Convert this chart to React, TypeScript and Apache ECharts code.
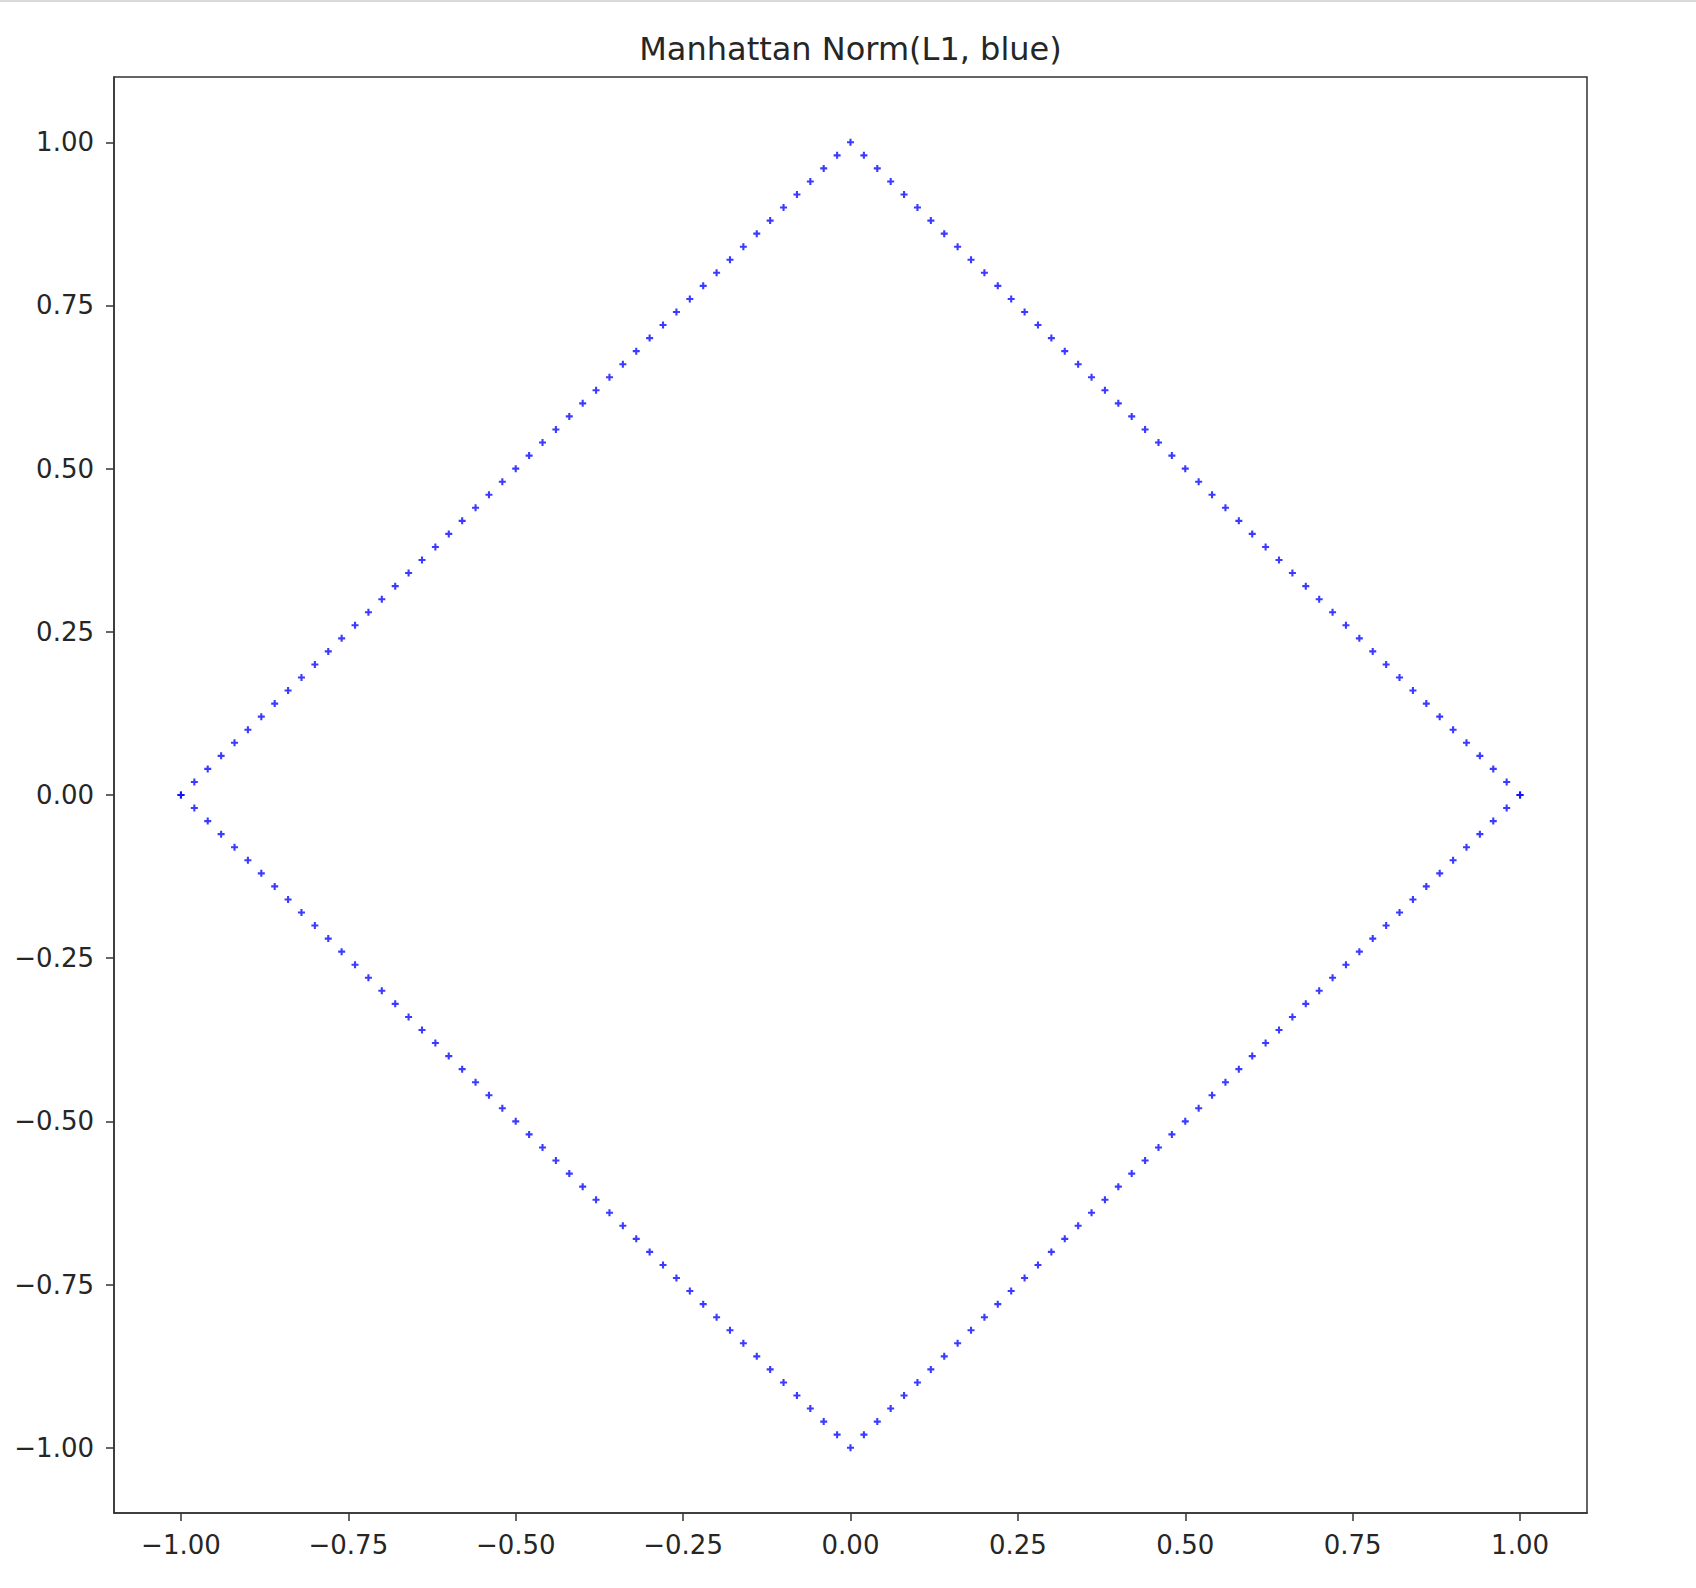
import React, { useEffect, useRef } from "react";
import * as echarts from "echarts";

const titleText = "Manhattan Norm(L1, blue)";

const tickValues = [-1, -0.75, -0.5, -0.25, 0, 0.25, 0.5, 0.75, 1];

const xs = [
  -1, -0.98, -0.96, -0.94, -0.92, -0.9, -0.88, -0.86, -0.84, -0.82,
  -0.8, -0.78, -0.76, -0.74, -0.72, -0.7, -0.68, -0.66, -0.64, -0.62,
  -0.6, -0.58, -0.56, -0.54, -0.52, -0.5, -0.48, -0.46, -0.44, -0.42,
  -0.4, -0.38, -0.36, -0.34, -0.32, -0.3, -0.28, -0.26, -0.24, -0.22,
  -0.2, -0.18, -0.16, -0.14, -0.12, -0.1, -0.08, -0.06, -0.04, -0.02,
  0,
  0.02, 0.04, 0.06, 0.08, 0.1, 0.12, 0.14, 0.16, 0.18, 0.2,
  0.22, 0.24, 0.26, 0.28, 0.3, 0.32, 0.34, 0.36, 0.38, 0.4,
  0.42, 0.44, 0.46, 0.48, 0.5, 0.52, 0.54, 0.56, 0.58, 0.6,
  0.62, 0.64, 0.66, 0.68, 0.7, 0.72, 0.74, 0.76, 0.78, 0.8,
  0.82, 0.84, 0.86, 0.88, 0.9, 0.92, 0.94, 0.96, 0.98, 1,
];

const upperY = [
  0, 0.02, 0.04, 0.06, 0.08, 0.1, 0.12, 0.14, 0.16, 0.18,
  0.2, 0.22, 0.24, 0.26, 0.28, 0.3, 0.32, 0.34, 0.36, 0.38,
  0.4, 0.42, 0.44, 0.46, 0.48, 0.5, 0.52, 0.54, 0.56, 0.58,
  0.6, 0.62, 0.64, 0.66, 0.68, 0.7, 0.72, 0.74, 0.76, 0.78,
  0.8, 0.82, 0.84, 0.86, 0.88, 0.9, 0.92, 0.94, 0.96, 0.98,
  1,
  0.98, 0.96, 0.94, 0.92, 0.9, 0.88, 0.86, 0.84, 0.82, 0.8,
  0.78, 0.76, 0.74, 0.72, 0.7, 0.68, 0.66, 0.64, 0.62, 0.6,
  0.58, 0.56, 0.54, 0.52, 0.5, 0.48, 0.46, 0.44, 0.42, 0.4,
  0.38, 0.36, 0.34, 0.32, 0.3, 0.28, 0.26, 0.24, 0.22, 0.2,
  0.18, 0.16, 0.14, 0.12, 0.1, 0.08, 0.06, 0.04, 0.02, 0,
];

const lowerY = [
  0, -0.02, -0.04, -0.06, -0.08, -0.1, -0.12, -0.14, -0.16, -0.18,
  -0.2, -0.22, -0.24, -0.26, -0.28, -0.3, -0.32, -0.34, -0.36, -0.38,
  -0.4, -0.42, -0.44, -0.46, -0.48, -0.5, -0.52, -0.54, -0.56, -0.58,
  -0.6, -0.62, -0.64, -0.66, -0.68, -0.7, -0.72, -0.74, -0.76, -0.78,
  -0.8, -0.82, -0.84, -0.86, -0.88, -0.9, -0.92, -0.94, -0.96, -0.98,
  -1,
  -0.98, -0.96, -0.94, -0.92, -0.9, -0.88, -0.86, -0.84, -0.82, -0.8,
  -0.78, -0.76, -0.74, -0.72, -0.7, -0.68, -0.66, -0.64, -0.62, -0.6,
  -0.58, -0.56, -0.54, -0.52, -0.5, -0.48, -0.46, -0.44, -0.42, -0.4,
  -0.38, -0.36, -0.34, -0.32, -0.3, -0.28, -0.26, -0.24, -0.22, -0.2,
  -0.18, -0.16, -0.14, -0.12, -0.1, -0.08, -0.06, -0.04, -0.02, 0,
];

const FONT = "DejaVu Sans";
const AXIS_COLOR = "#333333";
const TEXT_COLOR = "#262626";
const PLUS =
  "path://M0.35,0 H0.65 V0.35 H1 V0.65 H0.65 V1 H0.35 V0.65 H0 V0.35 H0.35 Z";

const fmt = (v: number) =>
  (v < 0 ? "\u2212" : "") + Math.abs(v).toFixed(2);

export default function App() {
  const ref = useRef<HTMLDivElement>(null);

  useEffect(() => {
    if (!ref.current) return;
    const chart = echarts.init(ref.current, undefined, { renderer: "svg" });

    const axisCommon = {
      type: "value" as const,
      min: -1.1,
      max: 1.1,
      splitLine: { show: false },
      axisLine: { show: true, onZero: false, lineStyle: { color: AXIS_COLOR, width: 1.5 } },
      axisTick: {
        show: true,
        inside: false,
        length: 8,
        customValues: tickValues,
        lineStyle: { color: AXIS_COLOR, width: 1.5 },
      },
      axisLabel: {
        show: true,
        customValues: tickValues,
        formatter: fmt,
        color: TEXT_COLOR,
        fontFamily: FONT,
        fontSize: 26,
        showMinLabel: true,
        showMaxLabel: true,
      },
    };

    chart.setOption({
      animation: false,
      backgroundColor: "#ffffff",
      grid: {
        left: 114,
        right: 109,
        top: 77,
        bottom: 75,
        show: true,
        borderColor: AXIS_COLOR,
        borderWidth: 1.5,
        backgroundColor: "transparent",
        containLabel: false,
      },
      xAxis: {
        ...axisCommon,
        position: "bottom",
        axisLabel: { ...axisCommon.axisLabel, margin: 19 },
      },
      yAxis: {
        ...axisCommon,
        position: "left",
        axisLabel: { ...axisCommon.axisLabel, margin: 20 },
      },
      graphic: [
        {
          type: "rect",
          shape: { x: 0, y: 0, width: 1696, height: 2 },
          style: { fill: "#d9d9d9" },
          silent: true,
        },
        {
          type: "text",
          x: 850.5,
          y: 65,
          style: {
            text: titleText,
            fontFamily: FONT,
            fontSize: 32,
            fill: TEXT_COLOR,
            textAlign: "center",
            textVerticalAlign: "bottom",
          },
          silent: true,
        },
      ],
      series: [
        {
          type: "scatter",
          name: "upper",
          data: xs.map((x, i) => [x, upperY[i]]),
          symbol: PLUS,
          symbolSize: 7,
          itemStyle: { color: "#0a0aff" },
          silent: true,
        },
        {
          type: "scatter",
          name: "lower",
          data: xs.map((x, i) => [x, lowerY[i]]),
          symbol: PLUS,
          symbolSize: 7,
          itemStyle: { color: "#0a0aff" },
          silent: true,
        },
      ],
    });

    return () => chart.dispose();
  }, []);

  return (
    <div
      ref={ref}
      style={{ position: "absolute", left: 0, top: 0, width: 1696, height: 1588 }}
    />
  );
}
